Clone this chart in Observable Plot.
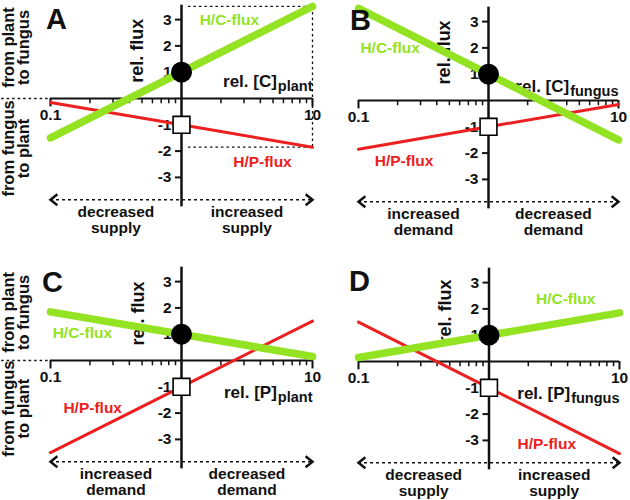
<!DOCTYPE html>
<html><head><meta charset="utf-8">
<script src="https://cdn.jsdelivr.net/npm/d3@7"></script>
<script src="https://cdn.jsdelivr.net/npm/@observablehq/plot@0.6"></script>
<style>
body{margin:0;background:#fff;}
#wrap{position:relative;width:630px;height:500px;overflow:hidden;background:#fff;}
#wrap > svg{position:absolute;overflow:visible;}
</style></head><body><div id="wrap"></div>
<script>
// ---- data ----
const conc = [0.1, 1, 10];
const hcA = [-1.5, 1, 3.5];
const hpA = [-0.15, -1, -1.85];
const hcB = [3.5, 1, -1.5];
const hpB = [-1.85, -1, -0.15];
const hcC = [1.85, 1, 0.15];
const hpC = [-3.5, -1, 1.5];
const hcD = [0.15, 1, 1.85];
const hpD = [1.5, -1, -3.5];
const refPoint = {c: 1, hc: 1, hp: -1};
const majorTicks = [0.1, 10];
const majorTickLabels = ["0.1", "10"];
const minorTicks = [0.2,0.3,0.4,0.5,0.6,0.7,0.8,0.9,2,3,4,5,6,7,8,9];
const yTicks = [3, 2, 1, -1, -2, -3];
const yTickLabels = ["3", "2", "1", "-1", "-2", "-3"];
const panelLetters = ["A", "B", "C", "D"];
const xVars = ["[C]", "[C]", "[P]", "[P]"];
const xSubs = ["plant", "fungus", "plant", "fungus"];
const leftTexts = ["decreased\nsupply", "increased\ndemand", "increased\ndemand", "decreased\nsupply"];
const rightTexts = ["increased\nsupply", "decreased\ndemand", "decreased\ndemand", "increased\nsupply"];
const sideTop = "from plant\nto fungus";
const sideBottom = "from fungus\nto plant";

const GREEN = "#93e322", RED = "#ec2020", INK = "#111";
const FONT = "'Liberation Sans', Arial, sans-serif";
const PX_PER_UNIT = 26.3, W = 315, H = 250;

// chevron symbols for the double arrow (tip at the origin)
const chevron = dir => ({draw(ctx, size) {
  const r = Math.sqrt(size / Math.PI);
  ctx.moveTo(dir * r * 1.25, -r);
  ctx.lineTo(0, 0);
  ctx.lineTo(dir * r * 1.25, r);
}});

// layout per panel (positions only)
const panels = [
  {left:0, top:0, mL:50, mR:3, zero:98, hc:hcA, hp:hpA,
   letter:[0.111, 3.0], hcLab:[2.32, 2.97], hpLab:[4.15, -2.43], flux:[0.46, 1.82], xlabY:0.64,
   side:[1.94, -1.9],
   guides:[{x1:1.12,x2:10,y1:3.5,y2:3.5},{x1:10,x2:10,y1:3.5,y2:-1.85},{x1:1.12,x2:10,y1:-1.85,y2:-1.85},{x1:0.042,x2:0.1,y1:0,y2:0}]},
  {left:315, top:0, mL:43, mR:12, zero:100, hc:hcB, hp:hpB,
   letter:[0.1036, 3.04], hcLab:[0.175, 2.0], hpLab:[0.224, -2.32], flux:[0.46, 1.83], xlabY:0.52,
   side:null, guides:[]},
  {left:0, top:250, mL:50, mR:3, zero:110, hc:hcC, hp:hpC,
   letter:[0.1036, 2.97], hcLab:[0.175, 1.03], hpLab:[0.21, -1.79], flux:[0.47, 1.79], xlabY:-1.22,
   side:[1.83, -1.83], guides:[{x1:0.042,x2:0.1,y1:0,y2:0}]},
  {left:315, top:250, mL:43, mR:11, zero:111, hc:hcD, hp:hpD,
   letter:[0.1018, 3.04], hcLab:[3.87, 2.36], hpLab:[2.77, -3.12], flux:[0.46, 1.9], xlabY:-1.22,
   side:null, guides:[]}
];

const ctx = document.createElement("canvas").getContext("2d");
function textWidth(t, size){ ctx.font = `bold ${size}px ${FONT}`; return ctx.measureText(t).width; }

const wrap = document.getElementById("wrap");
panels.forEach((p, i) => {
  const yMax = p.zero / PX_PER_UNIT, yMin = -(H - p.zero) / PX_PER_UNIT;
  const hpData = conc.map((c, k) => ({c, v: p.hp[k]}));
  const hcData = conc.map((c, k) => ({c, v: p.hc[k]}));
  const subSize = 14.5, mainSize = 17;
  const subW = textWidth(xSubs[i], subSize);
  const marks = [
    Plot.link(p.guides, {x1:"x1", x2:"x2", y1:"y1", y2:"y2", stroke: INK, strokeWidth: 1.3, strokeDasharray: "2.5,3"}),
    // horizontal axis
    Plot.ruleY([0], {x1: 0.1, x2: 10, stroke: INK, strokeWidth: 2}),
    Plot.ruleX(minorTicks, {y1: 0, y2: -0.2, stroke: INK, strokeWidth: 1.5}),
    Plot.ruleX(majorTicks, {y1: 0, y2: -0.32, stroke: INK, strokeWidth: 2}),
    Plot.text(majorTicks, {x: d => d, y: 0, text: majorTickLabels, dy: 17, fontSize: 15.5, fontWeight: "bold", fill: INK}),
    // bottom dashed double arrow
    Plot.ruleY([-3.85], {x1: 0.1, x2: 10, stroke: INK, strokeWidth: 1.5, strokeDasharray: "3,3"}),
    Plot.dot([0.1], {x: d => d, y: -3.85, symbol: chevron(1), r: 5.5, fill: "none", stroke: INK, strokeWidth: 2.5}),
    Plot.dot([10], {x: d => d, y: -3.85, symbol: chevron(-1), r: 5.5, fill: "none", stroke: INK, strokeWidth: 2.5}),
    Plot.text([leftTexts[i]], {x: 0.316, y: -4.63, text: d => d, fontSize: 15.5, fontWeight: "bold", fill: INK, lineHeight: 1}),
    Plot.text([rightTexts[i]], {x: 3.16, y: -4.63, text: d => d, fontSize: 15.5, fontWeight: "bold", fill: INK, lineHeight: 1}),
    // vertical axis
    Plot.ruleX([1], {y1: 3.55, y2: -4.12, stroke: INK, strokeWidth: 2.5}),
    Plot.ruleY(yTicks, {x1: 0.9, x2: 1, stroke: INK, strokeWidth: 2}),
    Plot.text(yTicks, {x: 1, y: d => d, text: yTickLabels, dx: -10, textAnchor: "end", fontSize: 15.5, fontWeight: "bold", fill: INK}),
    // axis titles
    Plot.text(["rel. flux"], {x: p.flux[0], y: p.flux[1], text: d => d, rotate: -90, fontSize: 18, fontWeight: "bold", fill: INK}),
    Plot.text(["rel. " + xVars[i]], {x: 10, y: p.xlabY, text: d => d, textAnchor: "end", dx: -subW - 1, fontSize: mainSize, fontWeight: "bold", fill: INK}),
    Plot.text([xSubs[i]], {x: 10, y: p.xlabY, text: d => d, textAnchor: "end", dy: 5, fontSize: subSize, fontWeight: "bold", fill: INK}),
    // flux lines
    Plot.line(hpData, {x: "c", y: "v", stroke: RED, strokeWidth: 3}),
    Plot.line(hcData, {x: "c", y: "v", stroke: GREEN, strokeWidth: 7.5, strokeLinecap: "round"}),
    Plot.text(["H/C-flux"], {x: p.hcLab[0], y: p.hcLab[1], text: d => d, fill: GREEN, fontSize: 15.5, fontWeight: "bold"}),
    Plot.text(["H/P-flux"], {x: p.hpLab[0], y: p.hpLab[1], text: d => d, fill: RED, fontSize: 15.5, fontWeight: "bold"}),
    // reference point markers
    Plot.dot([refPoint], {x: "c", y: "hc", r: 10.5, fill: "black"}),
    Plot.dot([refPoint], {x: "c", y: "hp", symbol: "square", r: 9.5, fill: "white", stroke: "black", strokeWidth: 1.6}),
    // panel letter
    Plot.text([panelLetters[i]], {x: p.letter[0], y: p.letter[1], text: d => d, textAnchor: "middle", fontSize: 29, fontWeight: "bold", fill: INK})
  ];
  if (p.side) {
    marks.push(
      Plot.text([sideTop], {frameAnchor: "left", y: p.side[0], text: d => d, dx: -34, rotate: -90, textAnchor: "middle", fontSize: 16.5, fontWeight: "bold", fill: INK, lineHeight: 0.95}),
      Plot.text([sideBottom], {frameAnchor: "left", y: p.side[1], text: d => d, dx: -34, rotate: -90, textAnchor: "middle", fontSize: 16.5, fontWeight: "bold", fill: INK, lineHeight: 0.95})
    );
  }
  const svg = Plot.plot({
    width: W, height: H,
    marginLeft: p.mL, marginRight: p.mR, marginTop: 0, marginBottom: 0,
    x: {type: "log", domain: [0.1, 10], axis: null},
    y: {domain: [yMin, yMax], axis: null},
    style: {fontFamily: FONT, background: "transparent", overflow: "visible"},
    marks
  });
  svg.style.left = p.left + "px";
  svg.style.top = p.top + "px";
  wrap.appendChild(svg);
});
</script></body></html>
